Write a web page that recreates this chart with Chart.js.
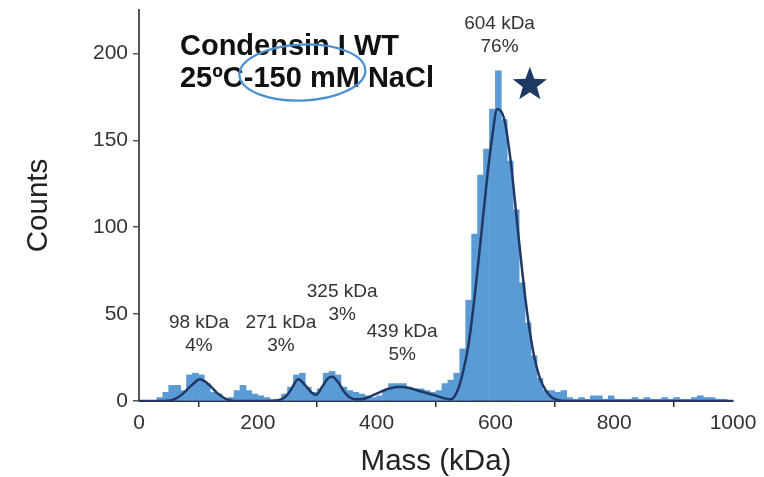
<!DOCTYPE html>
<html>
<head>
<meta charset="utf-8">
<script src="https://cdn.jsdelivr.net/npm/chart.js@4.4.1/dist/chart.umd.min.js"></script>
<style>
  html, body { margin: 0; padding: 0; background: #fff; }
  #wrap { width: 764px; height: 477px; position: relative; }
</style>
</head>
<body>
<div id="wrap"><canvas id="chart"></canvas></div>
<script>
// histogram bins (kDa, bin centres) and counts
const binMass = [35, 45, 55, 65, 75, 85, 95, 105, 115, 125, 135, 145, 155, 165, 175, 185, 195, 205, 215, 225,
  235, 245, 255, 265, 275, 285, 295, 305, 315, 325, 335, 345, 355, 365, 375, 385, 395, 405, 415, 425,
  435, 445, 455, 465, 475, 485, 495, 505, 515, 525, 535, 545, 555, 565, 575, 585, 595, 605, 615, 625,
  635, 645, 655, 665, 675, 685, 695, 705, 715, 725, 735, 745, 755, 765, 775, 785, 795, 805, 815, 825,
  835, 845, 855, 865, 875, 885, 895, 905, 915, 925, 935, 945, 955, 965, 975, 985, 995]
const binCounts = [2, 5, 9, 9, 6, 15, 16, 15, 10, 5, 4, 1, 2, 6, 9, 6, 4, 3, 2, 1,
  1, 4, 8, 15, 16, 8, 5, 7, 16, 17, 15, 8, 6, 5, 4, 3, 2, 3, 6, 10,
  10, 10, 8, 7, 7, 6, 5, 6, 10, 12, 16, 30, 58, 96, 130, 145, 168, 190, 162, 138,
  110, 68, 45, 26, 13, 6, 6, 5, 6, 2, 1, 2, 1, 3, 3, 1, 3, 1, 1, 1,
  2, 1, 2, 1, 1, 2, 1, 2, 1, 1, 2, 3, 2, 2, 1, 1, 0]

// gaussian fit curve
const fitMass = [0, 40, 55, 65, 75, 85, 95, 102, 112, 122, 132, 142, 152, 170, 225, 235, 245, 255, 268, 280,
  290, 298, 308, 318, 325, 335, 345, 355, 365, 375, 385, 395, 405, 415, 425, 435, 445, 455, 465, 475,
  485, 495, 505, 515, 525, 535, 545, 555, 565, 575, 585, 595, 603, 615, 625, 635, 645, 655, 665, 675,
  685, 695, 705, 720, 1000]
const fitCounts = [0, 0, 0.5, 2, 4.5, 8, 11, 12.5, 11, 8, 4.5, 2, 0.5, 0, 0, 0.5, 2, 6, 12.5, 9,
  5, 3.5, 8, 13, 14, 11, 5.5, 2, 1, 1, 2, 3.5, 5, 6.5, 7.5, 8, 8, 7.5, 6.5, 5.5,
  4.5, 3.5, 2.5, 1.5, 1, 5, 16, 33, 60, 92, 125, 153, 168, 162, 140, 108, 75, 47, 26, 13,
  6, 2, 0.5, 0, 0]

const xTicks = [0, 200, 400, 600, 800, 1000]
const yTicks = [0, 50, 100, 150, 200]

// peak labels: [mass, counts] anchor in data units
const peakLabels = [
  { text: ['604 kDa', '76%'], at: [607, 217] },
  { text: ['98 kDa', '4%'], at: [101, 45] },
  { text: ['271 kDa', '3%'], at: [239, 45] },
  { text: ['325 kDa', '3%'], at: [342, 63] },
  { text: ['439 kDa', '5%'], at: [443, 40] },
]

const font = "'Liberation Sans', Arial, sans-serif"

const annotations = {
  id: 'annotations',
  afterDraw(chart) {
    const { ctx, scales: { x, y } } = chart
    ctx.save()
    ctx.fillStyle = '#333'
    ctx.font = `19px ${font}`
    ctx.textAlign = 'center'
    ctx.textBaseline = 'middle'
    peakLabels.forEach(p => {
      const px = x.getPixelForValue(p.at[0])
      const py = y.getPixelForValue(p.at[1])
      ctx.fillText(p.text[0], px, py)
      ctx.fillText(p.text[1], px, py + 23)
    })

    // title block
    ctx.fillStyle = '#111'
    ctx.textAlign = 'left'
    ctx.textBaseline = 'alphabetic'
    ctx.font = `bold 29px ${font}`
    const tx = x.getPixelForValue(69)
    ctx.fillText('Condensin I WT', tx, y.getPixelForValue(199))
    ctx.fillText('25ºC-150 mM NaCl', tx, y.getPixelForValue(180.5))

    // ellipse round the salt concentration
    ctx.strokeStyle = '#4a8fd0'
    ctx.lineWidth = 2.2
    ctx.beginPath()
    ctx.ellipse(x.getPixelForValue(275), y.getPixelForValue(189), 63, 28, -0.04, 0, Math.PI * 2)
    ctx.stroke()

    // star next to the main peak
    const sx = x.getPixelForValue(658)
    const sy = y.getPixelForValue(182)
    ctx.fillStyle = '#1f3864'
    ctx.beginPath()
    for (let i = 0; i < 10; i++) {
      const r = i % 2 === 0 ? 18 : 7.5
      const a = -Math.PI / 2 + i * Math.PI / 5
      const px = sx + r * Math.cos(a)
      const py = sy + r * Math.sin(a)
      if (i === 0) ctx.moveTo(px, py)
      else ctx.lineTo(px, py)
    }
    ctx.closePath()
    ctx.fill()
    ctx.restore()
  },
}

new Chart(document.getElementById('chart'), {
  type: 'bar',
  data: {
    datasets: [
      {
        type: 'line',
        label: 'Fit',
        data: fitMass.map((m, i) => ({ x: m, y: fitCounts[i] })),
        borderColor: '#1f3864',
        borderWidth: 2.5,
        pointRadius: 0,
        cubicInterpolationMode: 'monotone',
        order: 0,
      },
      {
        label: 'Counts',
        data: binMass.map((m, i) => ({ x: m, y: binCounts[i] })),
        backgroundColor: '#5b9bd5',
        borderWidth: 0,
        barPercentage: 1,
        categoryPercentage: 1,
        order: 1,
      },
    ],
  },
  options: {
    responsive: true,
    maintainAspectRatio: false,
    animation: false,
    layout: { padding: { top: 10, right: 31, left: 0, bottom: 0 } },
    plugins: {
      legend: { display: false },
      tooltip: { enabled: false },
    },
    scales: {
      x: {
        type: 'linear',
        min: 0,
        max: 1000,
        offset: false,
        afterBuildTicks: (s) => { s.ticks = xTicks.map(v => ({ value: v })) },
        afterFit: (s) => { s.height = 76 },
        ticks: { color: '#333', font: { family: font, size: 21 }, padding: 4, maxRotation: 0, callback: (v) => String(v) },
        grid: { drawOnChartArea: false, tickLength: 6, color: '#333', lineWidth: 1.5 },
        border: { color: '#2a3550', width: 2 },
        title: { display: true, text: 'Mass (kDa)', color: '#222', font: { family: font, size: 29.5 }, padding: { top: 0, bottom: -3 } },
      },
      y: {
        min: 0,
        max: 225,
        afterBuildTicks: (s) => { s.ticks = yTicks.map(v => ({ value: v })) },
        afterFit: (s) => { s.width = 139; s.paddingTop = 0; s.paddingBottom = 0 },
        ticks: { color: '#333', font: { family: font, size: 21 }, padding: 5 },
        grid: { drawOnChartArea: false, tickLength: 6, color: '#555', lineWidth: 1.5 },
        border: { color: '#555', width: 2 },
        title: { display: true, text: 'Counts', color: '#222', font: { family: font, size: 29.5 }, padding: { top: 21, bottom: 0 } },
      },
    },
  },
  plugins: [annotations],
})
</script>
</body>
</html>
